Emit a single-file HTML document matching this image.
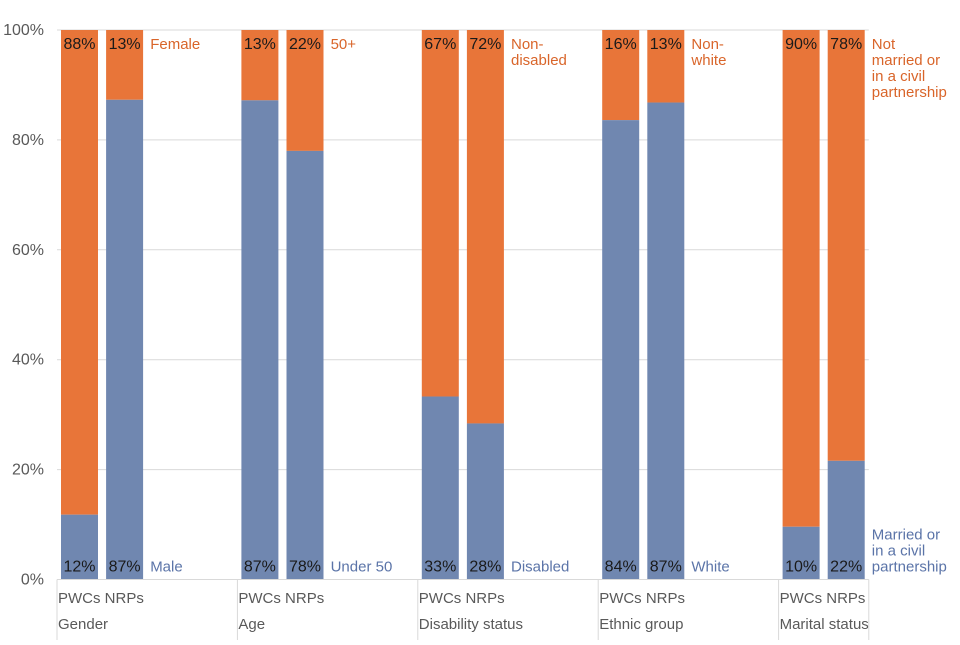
<!DOCTYPE html>
<html><head><meta charset="utf-8">
<style>
body{margin:0;background:#fff;font-family:"Liberation Sans",sans-serif;}
svg text{font-family:"Liberation Sans",sans-serif;}
</style></head>
<body>
<svg id="chart" width="960" height="640" viewBox="0 0 960 640" xmlns="http://www.w3.org/2000/svg"></svg>
<script>
const groups = ["Gender","Age","Disability status","Ethnic group","Marital status"];
const barLabels = ["PWCs","NRPs"];
const blueValues = [11.8, 87.3, 87.2, 78.0, 33.3, 28.4, 83.6, 86.8, 9.6, 21.6];
const blueLabels = ["12%","87%","87%","78%","33%","28%","84%","87%","10%","22%"];
const orangeLabels = ["88%","13%","13%","22%","67%","72%","16%","13%","90%","78%"];
const blueNames = [["Male"],["Under 50"],["Disabled"],["White"],["Married or","in a civil","partnership"]];
const orangeNames = [["Female"],["50+"],["Non-","disabled"],["Non-","white"],["Not","married or","in a civil","partnership"]];
const yTicks = [0,20,40,60,80,100];

const svg = document.getElementById('chart');
const NS = "http://www.w3.org/2000/svg";
const x0 = 57, slotW = 45.1, y0 = 579.5, yTop = 30;
const yScale = v => y0 - (y0 - yTop) * v / 100;
const slotX = i => x0 + i * slotW;
const barSlot = k => Math.floor(k/2)*4 + (k%2);
const BLUE = "#7087b0", ORANGE = "#e87539";
function el(tag, attrs, txt){
  const e = document.createElementNS(NS, tag);
  for (const k in attrs) e.setAttribute(k, attrs[k]);
  if (txt !== undefined) e.textContent = txt;
  svg.appendChild(e);
  return e;
}
const xEnd = slotX(18);
yTicks.forEach(t => {
  const y = yScale(t);
  if (t > 0) {
    const g = el('line',{x1:x0,x2:xEnd,y1:y,y2:y,stroke:'#d9d9d9','stroke-width':1});
    
    
  }
  const lb = el('text',{x:44,y:y+5,'text-anchor':'end','font-size':16,fill:'#595959'}, t+'%');
  
  
});
blueValues.forEach((v,k) => {
  const xs = slotX(barSlot(k)) + 4, w = 37;
  const yb = yScale(v);
  const o = el('rect',{x:xs,y:yTop,width:w,height:yb-yTop,fill:ORANGE});
  
  
  const b = el('rect',{x:xs,y:yb,width:w,height:y0-yb,fill:BLUE});
  
  
  const t1 = el('text',{x:xs+w/2,y:yTop+19,'text-anchor':'middle','font-size':16,fill:'#1a1a1a'}, orangeLabels[k]);
  
  
  const t2 = el('text',{x:xs+w/2,y:y0-8,'text-anchor':'middle','font-size':16,fill:'#1a1a1a'}, blueLabels[k]);
  
  
});
const ax = el('line',{x1:x0,x2:xEnd,y1:y0,y2:y0,stroke:'#d9d9d9'});


groups.forEach((g,i) => {
  const gx = slotX(i*4);
  const s = el('line',{x1:gx,x2:gx,y1:y0,y2:640,stroke:'#d9d9d9'});
  
  
  const bl = el('text',{x:gx+1,y:603,'font-size':15,fill:'#595959'}, barLabels.join(' '));
  
  
  const gl = el('text',{x:gx+1,y:629,'font-size':15,fill:'#595959'}, g);
  
  
  const lx = slotX(i*4+2) + 3;
  orangeNames[i].forEach((line,j) => {
    const t = el('text',{x:lx,y:yTop+19+j*16,'font-size':15,fill:'#d9652a'}, line);
    
    
  });
  const n = blueNames[i].length;
  blueNames[i].forEach((line,j) => {
    const t = el('text',{x:lx,y:y0-8-(n-1-j)*16,'font-size':15,fill:'#5b74a8'}, line);
    
    
  });
});
const se = el('line',{x1:xEnd,x2:xEnd,y1:y0,y2:640,stroke:'#d9d9d9'});


</script>
</body></html>
